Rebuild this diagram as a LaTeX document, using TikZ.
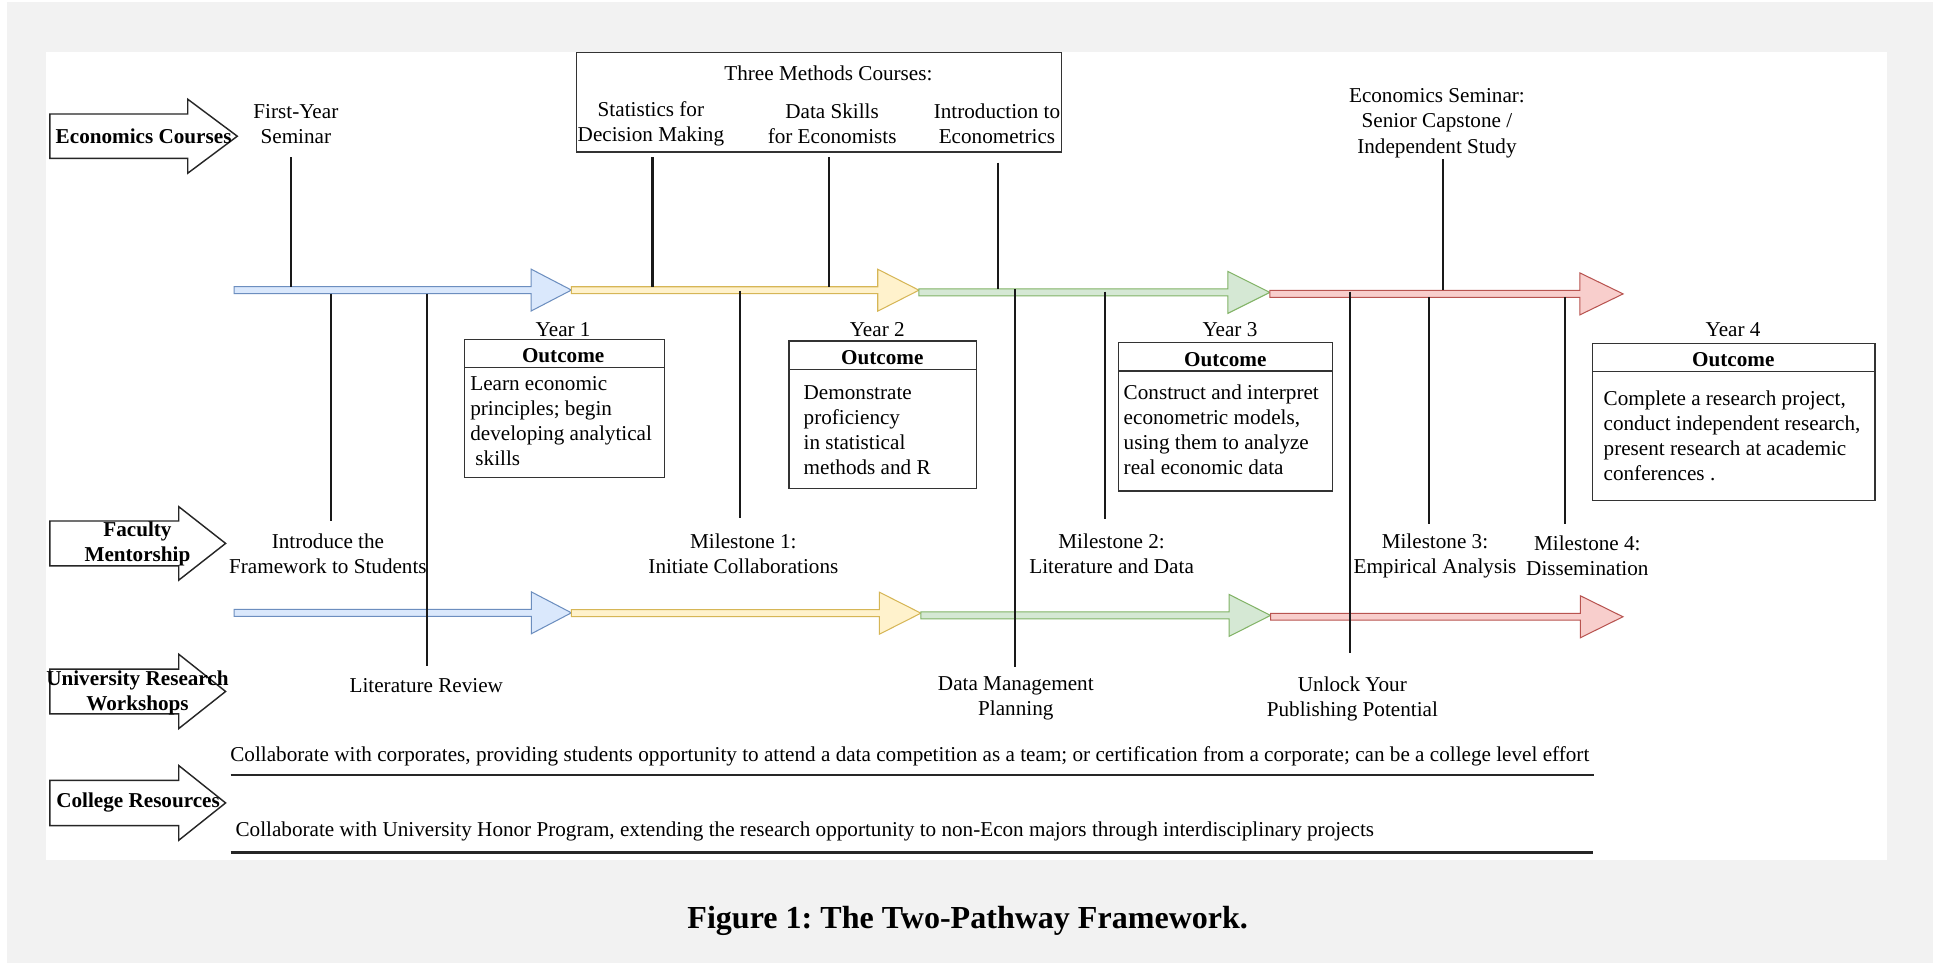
\documentclass[tikz,border=0pt]{standalone}
\usepackage{fontspec}
\setmainfont{Liberation Serif}
\usetikzlibrary{positioning}
\frenchspacing
\definecolor{pagegray}{HTML}{F2F2F2}
\definecolor{bluefill}{HTML}{DAE8FC}\definecolor{blueline}{HTML}{6C8EBF}
\definecolor{yelfill}{HTML}{FFF2CC}\definecolor{yelline}{HTML}{D6B656}
\definecolor{grnfill}{HTML}{D5E8D4}\definecolor{grnline}{HTML}{82B366}
\definecolor{redfill}{HTML}{F8CECC}\definecolor{redline}{HTML}{B85450}
\tikzset{
  lbl/.style={font=\fontsize{10.3}{12.2}\selectfont, align=center, inner sep=0pt},
  lbll/.style={lbl, align=left, anchor=west},
  side/.style={lbl, font=\fontsize{10.3}{12.2}\selectfont\bfseries},
  hdr/.style={lbl, font=\fontsize{10.3}{12.2}\selectfont\bfseries},
  tick/.style={line width=1pt, black!90},
  frame/.style={draw=black!80, line width=0.6pt},
  blockarr/.style={draw=black!85, fill=white, line width=0.7pt, line join=miter},
  pblue/.style={draw=blueline, fill=bluefill, line width=0.5pt},
  pyel/.style={draw=yelline, fill=yelfill, line width=0.5pt},
  pgrn/.style={draw=grnline, fill=grnfill, line width=0.5pt},
  pred/.style={draw=redline, fill=redfill, line width=0.5pt},
  under/.style={line width=1.1pt, black!85},
}
\begin{document}
\begin{tikzpicture}[x=0.6pt, y=-0.6pt]
  \useasboundingbox (0,0) rectangle (1568,781);
  \fill[white] (0,0) rectangle (1568,781);
  \fill[pagegray] (5.7,1.6) rectangle (1568,781);
  \fill[white] (37,42) rectangle (1531,698);

  % pathway labels on the left
  \draw[blockarr] (40.5,92.5) -- (152.3,92.5) -- (152.3,80.5) -- (192.5,110.5) -- (152.3,140.5) -- (152.3,128.5) -- (40.5,128.5) -- cycle;
  \draw[blockarr] (40.5,422.6) -- (145,422.6) -- (145,411) -- (183,440.8) -- (145,470.6) -- (145,459) -- (40.5,459) -- cycle;
  \draw[blockarr] (40.5,542.7) -- (145,542.7) -- (145,530.7) -- (183,560.9) -- (145,591) -- (145,579) -- (40.5,579) -- cycle;
  \draw[blockarr] (40.5,633) -- (145,633) -- (145,621) -- (183,651.3) -- (145,681.6) -- (145,669.7) -- (40.5,669.7) -- cycle;
  \node[side] (eco) at (116.5,110.5) {Economics Courses};
  \node[side] (fac) at (111.5,441.3) {Faculty\\Mentorship};
  \node[side] (urw) at (111.5,561.8) {University Research\\Workshops};
  \node[side] (col) at (112,651) {College Resources};

  % upper pathway
  \draw[pblue] (190,232.5) -- (430.8,232.5) -- (430.8,218.3) -- (463.5,235.3) -- (430.8,252.3) -- (430.8,238.1) -- (190,238.1) -- cycle;
  \draw[pyel] (463.5,232.6) -- (712,232.6) -- (712,218.4) -- (745.4,235.4) -- (712,252.4) -- (712,238.2) -- (463.5,238.2) -- cycle;
  \draw[pgrn] (745.4,234.4) -- (996,234.4) -- (996,220.2) -- (1030,237.2) -- (996,254.2) -- (996,240) -- (745.4,240) -- cycle;
  \draw[pred] (1030,235.6) -- (1281.6,235.6) -- (1281.6,221.4) -- (1316.6,238.4) -- (1281.6,255.4) -- (1281.6,241.2) -- (1030,241.2) -- cycle;
  % lower pathway
  \draw[pblue] (190,494.3) -- (431,494.3) -- (431,480.1) -- (463.5,497.1) -- (431,514.1) -- (431,499.9) -- (190,499.9) -- cycle;
  \draw[pyel] (463.5,494.6) -- (713.4,494.6) -- (713.4,480.4) -- (747,497.4) -- (713.4,514.4) -- (713.4,500.2) -- (463.5,500.2) -- cycle;
  \draw[pgrn] (747,496.4) -- (997,496.4) -- (997,482.2) -- (1030.6,499.2) -- (997,516.2) -- (997,502) -- (747,502) -- cycle;
  \draw[pred] (1030.6,497.5) -- (1282,497.5) -- (1282,483.3) -- (1316.5,500.3) -- (1282,517.3) -- (1282,503.1) -- (1030.6,503.1) -- cycle;

  % courses
  \node[lbl] (fys) at (240,100.8) {First-Year\\Seminar};
  \draw[frame] (467.7,42.7) rectangle (861,123.3);
  \node[lbl] (tmc) at (672,59.5) {Three Methods Courses:};
  \node[lbl] (sdm) at (528,100.2) {Statistics for\\Decision Making};
  \node[lbl] (dse) at (675,100.2) {Data Skills\\for Economists};
  \node[lbl] (ite) at (808.7,100.2) {Introduction to\\Econometrics};
  \node[lbl] (esm) at (1165.6,100) {Economics Seminar:\\Senior Capstone /\\Independent Study};

  % yearly outcomes
  \node[lbl] (y1) at (456.8,267.7) {Year 1};
  \draw[frame] (376.7,275.3) rectangle (538.9,387.2); \draw[frame] (376.7,298.2) -- (538.9,298.2);
  \node[hdr] (o1) at (456.8,288.8) {Outcome};
  \node[lbll] (t1) at (381.2,341.4) {Learn economic\\principles; begin\\developing analytical\\\hspace*{2.5pt}skills};
  \node[lbl] (y2) at (711.6,267.7) {Year 2};
  \draw[frame] (640,276.6) rectangle (792.2,396); \draw[frame] (640,299.6) -- (792.2,299.6);
  \node[hdr] (o2) at (715.7,290) {Outcome};
  \node[lbll] (t2) at (651.6,349) {Demonstrate\\proficiency\\in statistical\\methods and R};
  \node[lbl] (y3) at (997.7,267.7) {Year 3};
  \draw[frame] (907.1,277.7) rectangle (1080.7,398.3); \draw[frame] (907.1,301) -- (1080.7,301);
  \node[hdr] (o3) at (993.9,292) {Outcome};
  \node[lbll] (t3) at (911.2,348.8) {Construct and interpret\\econometric models,\\using them to analyze\\real economic data};
  \node[lbl] (y4) at (1405.8,267.7) {Year 4};
  \draw[frame] (1292,278.5) rectangle (1521,406); \draw[frame] (1292,301.5) -- (1521,301.5);
  \node[hdr] (o4) at (1406,292) {Outcome};
  \node[lbll] (t4) at (1300.5,353.5) {Complete a research project,\\conduct independent research,\\present research at academic\\conferences .};

  % mentorship and workshops
  \node[lbl] (intro) at (266,449.5) {Introduce the\\Framework to Students};
  \node[lbl] (litrev) at (345.8,556.2) {Literature Review};
  \node[lbl] (m1) at (603,449.5) {Milestone 1:\\Initiate Collaborations};
  \node[lbl] (dmp) at (824,566.6) {Data Management\\Planning};
  \node[lbl] (m2) at (901.7,449.5) {Milestone 2:\\Literature and Data};
  \node[lbl] (unlock) at (1097,566.6) {Unlock Your\\Publishing Potential};
  \node[lbl] (m3) at (1164,451) {Milestone 3:\\Empirical Analysis};
  \node[lbl] (m4) at (1287.6,451) {Milestone 4:\\Dissemination};

  % ticks
  \coordinate (fysT) at (236.4,127.5); \coordinate (fysB) at (236.4,232.5); \draw[tick] (fysT) -- (fysB);
  \coordinate (sdmT) at (529.3,127.6); \coordinate (sdmB) at (529.3,232.6); \draw[tick] (sdmT) -- (sdmB);
  \coordinate (dseT) at (672.5,127.6); \coordinate (dseB) at (672.5,232.6); \draw[tick] (dseT) -- (dseB);
  \coordinate (iteT) at (809.4,132); \coordinate (iteB) at (809.4,234.6); \draw[tick] (iteT) -- (iteB);
  \coordinate (esmT) at (1170.6,129); \coordinate (esmB) at (1170.6,235.6); \draw[tick] (esmT) -- (esmB);
  \coordinate (introT) at (268.5,238.1); \coordinate (introB) at (268.5,422.6); \draw[tick] (introT) -- (introB);
  \coordinate (litT) at (346.2,238.1); \coordinate (litB) at (346.2,540); \draw[tick] (litT) -- (litB);
  \coordinate (m1T) at (600,236); \coordinate (m1B) at (600,420.4); \draw[tick] (m1T) -- (m1B);
  \coordinate (dmpT) at (823,234.6); \coordinate (dmpB) at (823,540.8); \draw[tick] (dmpT) -- (dmpB);
  \coordinate (m2T) at (896,236.6); \coordinate (m2B) at (896,421.3); \draw[tick] (m2T) -- (m2B);
  \coordinate (unlT) at (1095.2,236.6); \coordinate (unlB) at (1095.2,530); \draw[tick] (unlT) -- (unlB);
  \coordinate (m3T) at (1159,241.2); \coordinate (m3B) at (1159,425.3); \draw[tick] (m3T) -- (m3B);
  \coordinate (m4T) at (1269.5,241.2); \coordinate (m4B) at (1269.5,425.3); \draw[tick] (m4T) -- (m4B);

  % college resources
  \node[lbll] (cr1) at (186.5,613.8) {Collaborate with corporates, providing students opportunity to attend a data competition as a team; or certification from a corporate; can be a college level effort};
  \coordinate (u1a) at (187,628.6); \coordinate (u1b) at (1293,628.6); \draw[under] (u1a) -- (u1b);
  \node[lbll] (cr2) at (190.8,674.6) {Collaborate with University Honor Program, extending the research opportunity to non-Econ majors through interdisciplinary projects};
  \coordinate (u2a) at (187,691.6); \coordinate (u2b) at (1292,691.6); \draw[under] (u2a) -- (u2b);

  \node[font=\fontsize{15.6}{18}\selectfont\bfseries, inner sep=0pt] (cap) at (785,747) {Figure 1: The Two-Pathway Framework.};
\end{tikzpicture}
\end{document}
